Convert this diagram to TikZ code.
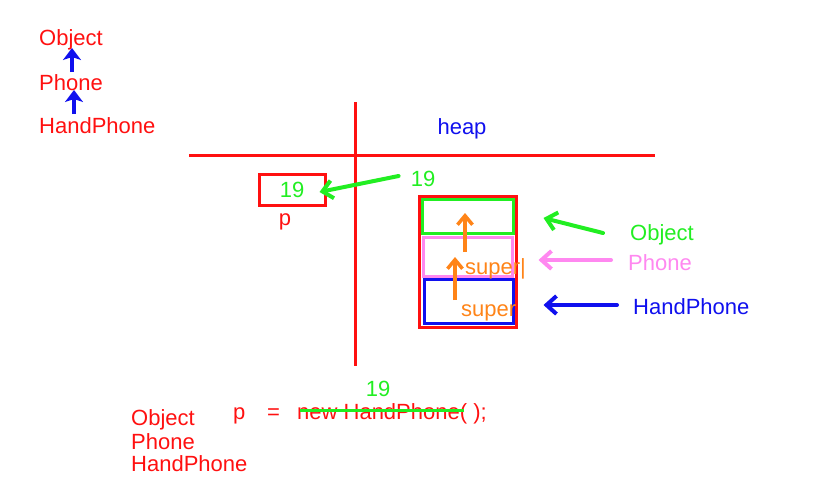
\documentclass[tikz,border=0pt]{standalone}
\usepackage{fontspec}
\setmainfont{Liberation Sans}
\usetikzlibrary{arrows.meta,positioning}
\definecolor{LineRed}{HTML}{FF1010}
\definecolor{MarkGreen}{HTML}{22EE22}
\definecolor{MarkBlue}{HTML}{1010EE}
\definecolor{MarkPink}{HTML}{FF88F0}
\definecolor{MarkOrange}{HTML}{FF8418}

\begin{document}
\begin{tikzpicture}[x=1pt,y=-1pt, every node/.style={font=\fontsize{22}{24}\selectfont,inner sep=0pt},
  txt/.style={anchor=west,yshift=-3pt}]
\useasboundingbox (0,0) rectangle (834,491);
% class chain
\node[text=LineRed,txt] (objtop) at (39,37) {Object};
\node[text=LineRed,txt] (phonetop) at (39,80) {Phone};
\node[text=LineRed,txt] (handtop) at (39,123) {HandPhone};
\coordinate (up1s) at (72,72);
\coordinate (up1e) at (72,48);
\coordinate (up2s) at (74,114);
\coordinate (up2e) at (74,90);
\draw[MarkBlue,line width=4.5pt,-{Stealth[length=12pt,width=18pt,inset=3pt]}] (up1s) -- (up1e);
\draw[MarkBlue,line width=4.5pt,-{Stealth[length=12pt,width=18pt,inset=3pt]}] (up2s) -- (up2e);
% stack / heap cross
\coordinate (hl) at (189,155);
\coordinate (hr) at (655,155);
\coordinate (vt) at (355,102);
\coordinate (vb) at (355,366);
\draw[LineRed,line width=3pt] (hl) -- (hr);
\draw[LineRed,line width=3pt] (vt) -- (vb);
\node[text=MarkBlue,yshift=-3pt] (heap) at (462,126) {heap};
% reference variable
\node[draw=LineRed,line width=3pt,minimum width=66pt,minimum height=31pt,text=MarkGreen] (pbox) at (292,190) {19};
\node[text=LineRed,yshift=-3pt] (pname) at (285,219) {p};
\node[text=MarkGreen,yshift=-3pt] (addr) at (423,176) {19};
\draw[MarkGreen,line width=4pt,line cap=round,-{Straight Barb[length=10pt,width=18pt]}] ([xshift=-12pt,yshift=3pt]addr.west) -- ([xshift=-7pt,yshift=-2pt]pbox.east);
% object in heap
\node[draw=LineRed,line width=3pt,minimum width=97pt,minimum height=131pt] (inst) at (467.5,261.5) {};
\node[draw=MarkGreen,line width=3pt,minimum width=91pt,minimum height=34pt] (objpart) at (467.5,216) {};
\node[draw=MarkPink,line width=3pt,minimum width=89pt,minimum height=39pt] (phonepart) at (467.5,256.5) {};
\node[draw=MarkBlue,line width=3pt,minimum width=89pt,minimum height=44pt] (handpart) at (468.5,301) {};
\node[text=MarkOrange,txt] (super1) at (465,266) {super|};
\node[text=MarkOrange,txt] (super2) at (461,310) {super};
\coordinate (s1s) at (465,252);
\coordinate (s1e) at (465,213);
\coordinate (s2s) at (455,300);
\coordinate (s2e) at (455,257);
\draw[MarkOrange,line width=3.5pt,-{Straight Barb[length=9pt,width=15pt]}] (s1s) -- (s1e);
\draw[MarkOrange,line width=3.5pt,-{Straight Barb[length=9pt,width=15pt]}] (s2s) -- (s2e);
% labels of the parts
\node[text=MarkGreen,txt] (objlab) at (630,232) {Object};
\node[text=MarkPink,txt] (phonelab) at (628,260) {Phone};
\node[text=MarkBlue,txt] (handlab) at (633,304) {HandPhone};
\draw[MarkGreen,line width=4pt,line cap=round,-{Straight Barb[length=10pt,width=18pt]}] ([xshift=-27pt,yshift=2pt]objlab.west) -- ([xshift=29pt,yshift=-2pt]objpart.east);
\draw[MarkPink,line width=4pt,line cap=round,-{Straight Barb[length=10pt,width=18pt]}] ([xshift=-17pt,yshift=3pt]phonelab.west) -- ([xshift=25pt,yshift=-3.5pt]phonepart.east);
\draw[MarkBlue,line width=4pt,line cap=round,-{Straight Barb[length=10pt,width=18pt]}] ([xshift=-16pt,yshift=2pt]handlab.west) -- ([xshift=29pt,yshift=-4pt]handpart.east);
% statement
\node[text=MarkGreen,yshift=-3pt] (addr2) at (378,386) {19};
\node[text=LineRed,txt] (pvar) at (233,413) {p};
\node[text=LineRed,txt] (eq) at (267,411) {=};
\node[text=LineRed,txt] (newexpr) at (297,411) {new HandPhone( );};
\draw[MarkGreen,line width=3.5pt] ([xshift=3pt,yshift=3.5pt]newexpr.west) -- ([xshift=-23pt,yshift=3.5pt]newexpr.east);
\node[text=LineRed,txt] (objbot) at (131,417) {Object};
\node[text=LineRed,txt] (phonebot) at (131,439) {Phone};
\node[text=LineRed,txt] (handbot) at (131,461) {HandPhone};
\end{tikzpicture}
\end{document}
